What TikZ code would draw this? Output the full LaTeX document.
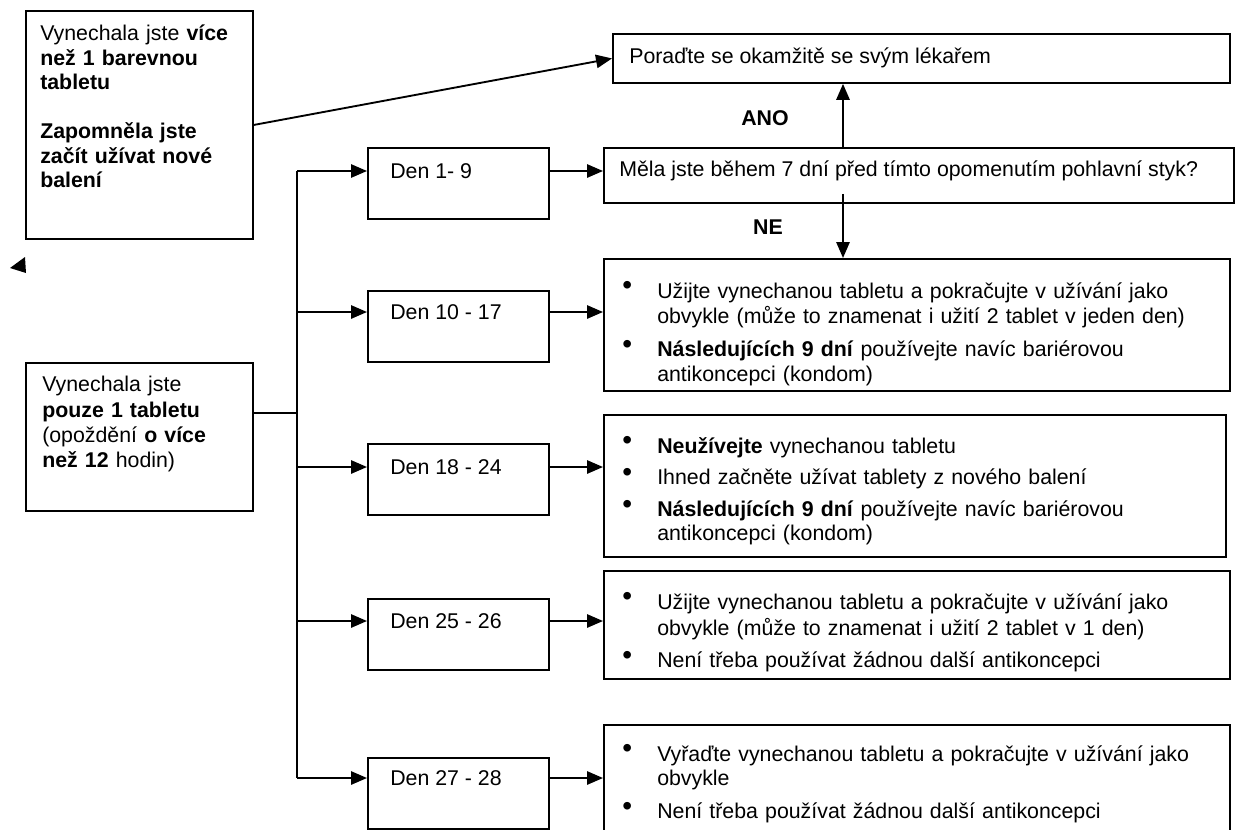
\documentclass[tikz,border=0pt]{standalone}
\usepackage{fontspec}
\setmainfont{Liberation Sans}
\usetikzlibrary{arrows.meta}
\newcommand\fs{\fontsize{16}{18.4}\selectfont}
\newcommand\bul[1]{\par\noindent\makebox[26.25pt][l]{\smash{\fontsize{21}{0}\selectfont\raisebox{2.4pt}{\textbullet}}}\parbox[t]{420pt}{\raggedright\strut#1\strut}}
\newcommand\gap{\par\vspace{5.3pt}}
\tikzset{
 bx/.style={draw,line width=1.4pt,inner sep=0,anchor=north west},
 sz/.style 2 args={minimum width=#1*.75pt,minimum height=#2*.75pt},
 txt/.style={inner sep=0,font=\fs},
 blk/.style={txt,anchor=north west,align=left,text width=#1*.75pt},
 arr/.style={line width=1.4pt,-{Triangle[length=12pt,width=10pt]}},
}
\begin{document}
\begin{tikzpicture}[x=.75pt,y=-.75pt]
 \useasboundingbox (0,0) rectangle (1235,829);
 % left boxes
 \node[bx,sz={227}{228}] (boxa) at (25,10) {};
 \node[blk=210] (ta) at (40,23.3) {\strut Vynechala jste \textbf{více}\\\textbf{než 1 barevnou}\\\textbf{tabletu}\\[18.4pt]\textbf{Zapomněla jste}\\\textbf{začít užívat nové}\\\textbf{balení}};
 \node[bx,sz={227}{148}] (boxb) at (25,362) {};
 \node[blk=205] (tb) at (42,373) {\fontsize{16}{19.3}\selectfont\strut Vynechala jste\\\textbf{pouze 1 tabletu}\\(opoždění \textbf{o více}\\\textbf{než 12} hodin)};
 \fill (10,268) -- (25,257) -- (26,273) -- cycle;
 % doctor + question
 \node[bx,sz={617}{49}] (doc) at (612,33) {};
 \node[txt,anchor=west] (tdoc) at (629,57.5) {Poraďte se okamžitě se svým lékařem};
 \node[bx,sz={630}{55}] (q) at (603,147) {};
 \node[txt,anchor=west] (tq) at (619,171) {Měla jste během 7 dní před tímto opomenutím pohlavní styk?};
 \node[txt,font=\fs\bfseries] (ano) at (765,118) {ANO};
 \node[txt,font=\fs\bfseries] (ne) at (768,227) {NE};
 % day boxes
 \foreach \i/\y/\a/\t in {1/147/171/{Den 1- 9},2/290/312/{Den 10 - 17},3/443/467/{Den 18 - 24},4/598/621/{Den 25 - 26},5/757/778/{Den 27 - 28}}{
 \node[bx,sz={181}{71}] (d\i) at (367,\y) {};
 \node[txt,anchor=west] (l\i) at (390,\a) {\t};
 }
 % what to do
 \node[bx,sz={626}{132}] (a1) at (603,258) {};
 \node[blk=595] (ta1) at (622,273.3) {\bul{Užijte vynechanou tabletu a pokračujte v užívání jako\newline obvykle (může to znamenat i užití 2 tablet v jeden den)}\gap\bul{\textbf{Následujících 9 dní} používejte navíc bariérovou\newline antikoncepci (kondom)}};
 \node[bx,sz={622}{142}] (a2) at (603,414) {};
 \node[blk=595] (ta2) at (622,428.3) {\bul{\textbf{Neužívejte} vynechanou tabletu}\gap\bul{Ihned začněte užívat tablety z nového balení}\gap\bul{\textbf{Následujících 9 dní} používejte navíc bariérovou\newline antikoncepci (kondom)}};
 \node[bx,sz={626}{108}] (a3) at (603,570) {};
 \node[blk=595] (ta3) at (622,584.3) {\bul{Užijte vynechanou tabletu a pokračujte v užívání jako\newline obvykle (může to znamenat i užití 2 tablet v 1 den)}\gap\bul{Není třeba používat žádnou další antikoncepci}};
 \node[bx,sz={626}{130}] (a4) at (603,724) {};
 \node[blk=595] (ta4) at (622,736.3) {\bul{Vyřaďte vynechanou tabletu a pokračujte v užívání jako\newline obvykle}\gap\bul{Není třeba používat žádnou další antikoncepci}};
 % connectors
 \coordinate (tr) at (297,413);
 \coordinate (yn) at (843,0);
 \draw[line width=1.4pt] (boxb.east |- tr) -- (tr);
 \draw[line width=1.4pt] (tr |- l1) -- (tr |- l5);
 \foreach \i in {1,...,5} \draw[arr] (tr |- l\i) -- (d\i.west |- l\i);
 \draw[arr] (d1.east |- l1) -- (q.west |- l1);
 \foreach \i/\j in {2/1,3/2,4/3,5/4} \draw[arr] (d\i.east |- l\i) -- (a\j.west |- l\i);
 \draw[arr] (boxa.east) -- (doc.west);
 \draw[arr] (yn |- q.north) -- (yn |- doc.south);
 \draw[arr] ([yshift=7.5pt]yn |- q.south) -- (yn |- a1.north);
\end{tikzpicture}
\end{document}
